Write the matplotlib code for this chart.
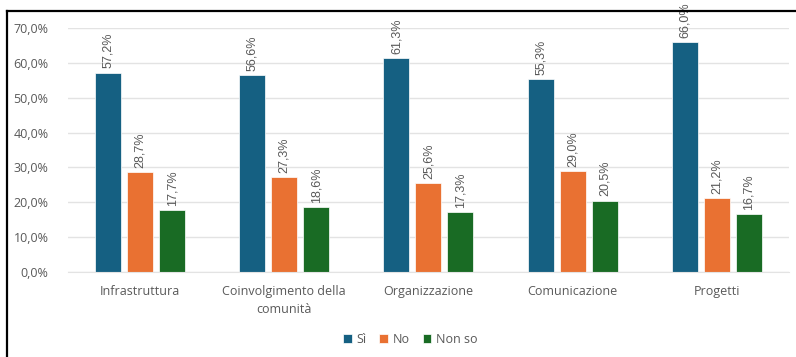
import matplotlib

matplotlib.use("Agg")

import matplotlib.pyplot as plt  # noqa: E402
import numpy as np  # noqa: E402
from matplotlib.lines import Line2D  # noqa: E402
from matplotlib.ticker import FuncFormatter, MultipleLocator  # noqa: E402

# ─── Data ────────────────────────────────────────────────────────────────────

categories = [
    "Infrastruttura",
    "Coinvolgimento della\ncomunità",
    "Organizzazione",
    "Comunicazione",
    "Progetti",
]
si_values = [57.2, 56.6, 61.3, 55.3, 66.0]
no_values = [28.7, 27.3, 25.6, 29.0, 21.2]
nonso_values = [17.7, 18.6, 17.3, 20.5, 16.7]
series_names = ["Sì", "No", "Non so"]

SERIES_COLORS = ["#156082", "#E97132", "#196B24"]
TEXT_COLOR = "#595959"

plt.rcParams["font.family"] = ["Open Sans", "DejaVu Sans"]

fig = plt.figure(figsize=(7.96, 3.57), dpi=100)
ax = fig.add_axes([0.0854, 0.238, 0.9056, 0.6836])

x = np.arange(len(categories))
bar_w = 0.18
step = 0.222
all_series = [si_values, no_values, nonso_values]

for i, (vals, name, color) in enumerate(zip(all_series, series_names, SERIES_COLORS)):
    pos = x + (i - 1) * step
    bars = ax.bar(pos, vals, width=bar_w, color=color, edgecolor="white",
                  linewidth=0.5, label=name, zorder=2)
    for b, v in zip(bars, vals):
        ax.annotate(
            f"{v:.1f}%".replace(".", ","),
            (b.get_x() + b.get_width() / 2, v),
            xytext=(0, 3), textcoords="offset points",
            rotation=90, ha="center", va="bottom",
            fontsize=9, color=TEXT_COLOR, family=["Liberation Sans"],
        )

ax.set_xlim(-0.5, len(categories) - 0.5)
ax.set_ylim(0, 70)
ax.yaxis.set_major_locator(MultipleLocator(10))
ax.yaxis.set_major_formatter(
    FuncFormatter(lambda v, _: f"{v:.1f}%".replace(".", ","))
)
ax.grid(True, axis="y", color="#E3E3E3", linewidth=1, zorder=0)
ax.set_axisbelow(True)

for side in ["top", "right", "left"]:
    ax.spines[side].set_visible(False)
ax.spines["bottom"].set_color("#E3E3E3")

ax.set_xticks(x)
ax.set_xticklabels(categories, fontsize=9, color=TEXT_COLOR, linespacing=1.5)
ax.tick_params(axis="x", length=0, pad=9)
ax.tick_params(axis="y", length=0, pad=14, labelsize=9, labelcolor=TEXT_COLOR)

ax.legend(
    loc="center", bbox_to_anchor=(0.475, -0.275), ncol=3, frameon=False,
    fontsize=9, labelcolor=TEXT_COLOR, handlelength=0.7, handleheight=0.7,
    handletextpad=0.4, columnspacing=1.0,
)

# Frame lines on the left and top edges
fig.add_artist(Line2D([7.5 / 796, 7.5 / 796], [0, 1 - 10.5 / 357],
                      color="black", linewidth=1.6))
fig.add_artist(Line2D([7 / 796, 1], [1 - 10.5 / 357, 1 - 10.5 / 357],
                      color="black", linewidth=1.6))

fig.savefig("out.png", dpi=100)
plt.close(fig)
